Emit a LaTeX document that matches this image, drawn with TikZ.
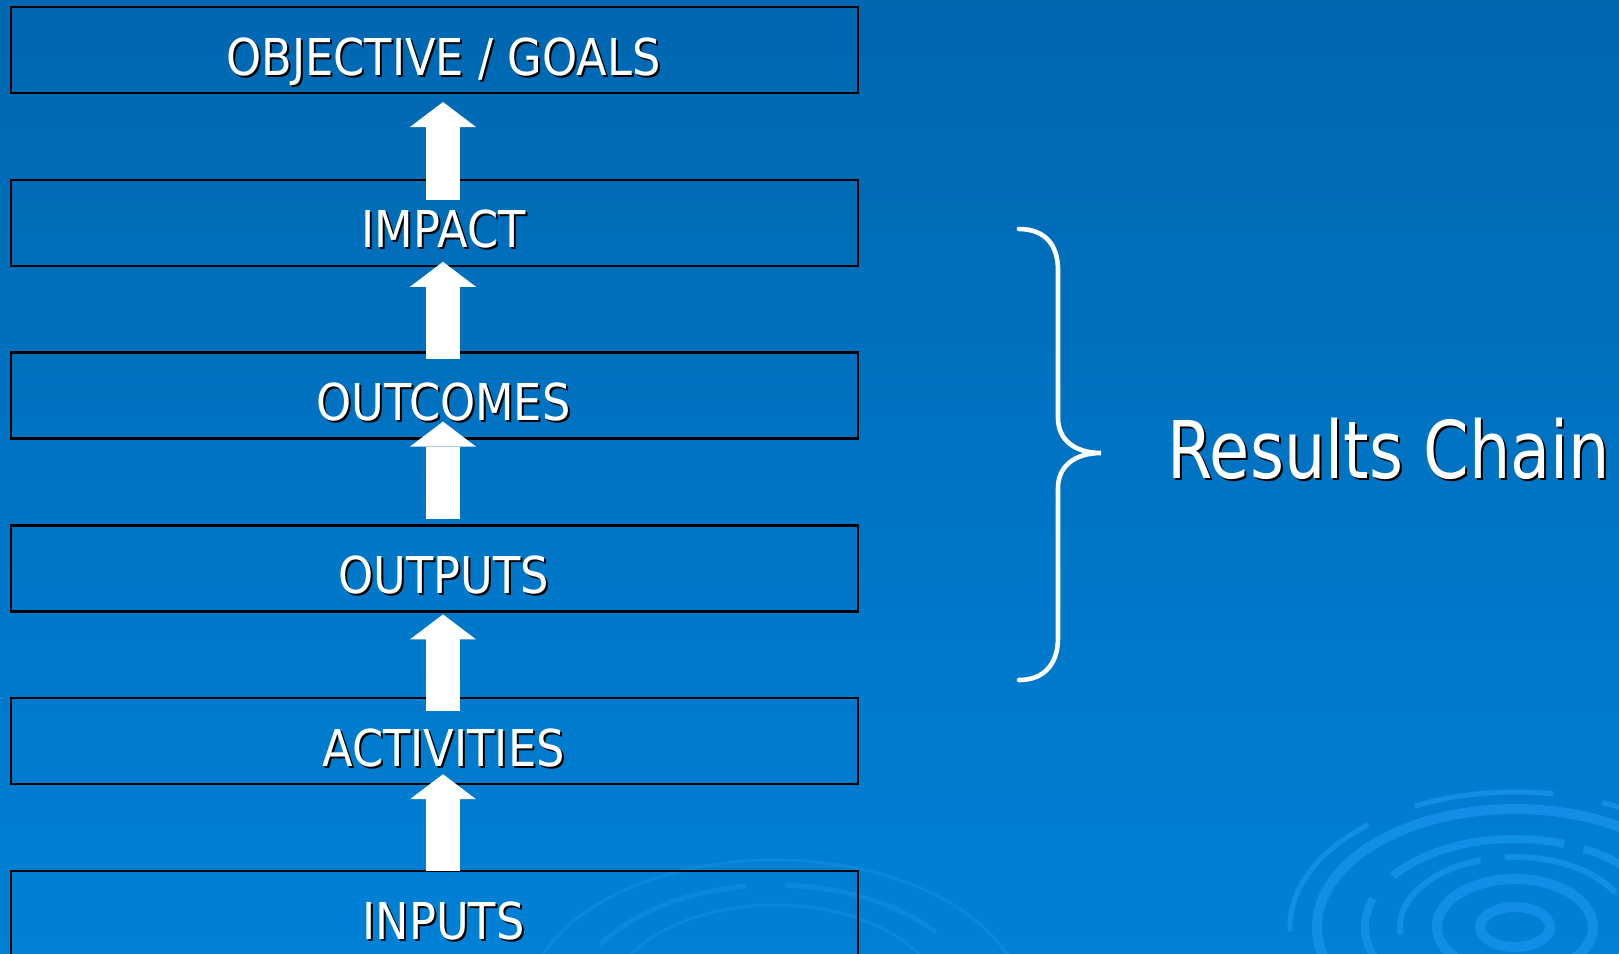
\documentclass[tikz,border=0pt]{standalone}
\usepackage{fontspec}
\usetikzlibrary{arrows.meta}
\newfontfamily\boxfont[FakeStretch=0.88]{DejaVu Sans}
\newfontfamily\chainfont[FakeStretch=0.82]{DejaVu Sans}
\definecolor{bgtop}{RGB}{0,103,177}
\definecolor{bgbottom}{RGB}{0,129,214}
\definecolor{ripple}{RGB}{18,142,230}
% 白字加黑色阴影
\newcommand{\shadowtext}[1]{\rlap{\kern1pt\raisebox{-1pt}{\color{black}#1}}#1}

\begin{document}
\begin{tikzpicture}[x=0.5pt, y=-0.5pt]
        % ================= 样式定义 =================
        \tikzset{
            % 阶段框:黑框,白字
            stage/.style={draw=black, line width=1.2pt, minimum width=423.5pt, minimum height=43pt,
                inner sep=0pt, outer sep=0pt, text=white, font=\boxfont\fontsize{25.4pt}{30pt}\selectfont,
                text height=25pt, text depth=0pt, execute at begin node=\hspace{9pt}},
            % 白色粗箭头
            uparrow/.style={white, line width=17pt, -{Triangle[width=33pt, length=12.5pt, line width=0pt]}},
            % 大括号
            brace/.style={white, line width=2.3pt, line cap=round},
            % 背景水纹
            ring/.style={draw=ripple, line width=3pt}
        }

        % ================= 1. 背景 =================
        \useasboundingbox (0,0) rectangle (1619,954);
        \fill[top color=bgtop, bottom color=bgbottom] (0,0) rectangle (1619,954);

        \begin{scope}
            \clip (0,0) rectangle (1619,954);
            % 右下角水纹
            \draw[ring, line width=5pt] (1515,927) ellipse [x radius=35, y radius=20];
            \draw[ring, line width=5pt] (1515,927) ellipse [x radius=78, y radius=48];
            \draw[ring, dash pattern=on 60pt off 12pt] (1515,927) ellipse [x radius=115, y radius=70];
            \draw[ring, line width=4pt, dash pattern=on 45pt off 15pt on 90pt off 10pt] (1515,927) ellipse [x radius=150, y radius=88];
            \draw[ring, line width=5pt] (1515,927) ellipse [x radius=198, y radius=118];
            \draw[ring, line width=2.5pt, dash pattern=on 70pt off 25pt] (1515,927) ellipse [x radius=225, y radius=135];
            % 底部中间水纹
            \draw[ring, line width=1.5pt, opacity=0.6] (775,1010) ellipse [x radius=170, y radius=105];
            \draw[ring, line width=2.5pt, opacity=0.6, dash pattern=on 80pt off 20pt] (775,1010) ellipse [x radius=205, y radius=125];
            \draw[ring, line width=1.5pt, opacity=0.6] (775,1010) ellipse [x radius=250, y radius=150];
        \end{scope}

        % ================= 2. 结果链各阶段 =================
        \node[stage] (obj)  at (434.5,50)    {\shadowtext{OBJECTIVE / GOALS}};
        \node[stage] (imp)  at (434.5,222.8) {\shadowtext{IMPACT}};
        \node[stage] (outc) at (434.5,395.6) {\shadowtext{OUTCOMES}};
        \node[stage] (outp) at (434.5,568.4) {\shadowtext{OUTPUTS}};
        \node[stage] (act)  at (434.5,741.2) {\shadowtext{ACTIVITIES}};
        \node[stage] (inp)  at (434.5,914)   {\shadowtext{INPUTS}};

        % ================= 3. 向上箭头 =================
        \draw[uparrow] ([xshift=4.25pt,yshift=-10pt]imp.north)  -- ([xshift=4.25pt,yshift=-4.5pt]obj.south);
        \draw[uparrow] ([xshift=4.25pt,yshift=-3pt]outc.north)  -- ([xshift=4.25pt,yshift=2pt]imp.south);
        \draw[uparrow] ([xshift=4.25pt,yshift=3pt]outp.north)   -- ([xshift=4.25pt,yshift=8.5pt]outc.south);
        \draw[uparrow] ([xshift=4.25pt,yshift=-6.5pt]act.north) -- ([xshift=4.25pt,yshift=-1.5pt]outp.south);
        \draw[uparrow] ([xshift=4.25pt]inp.north)               -- ([xshift=4.25pt,yshift=5pt]act.south);

        % ================= 4. 大括号与标题 =================
        \draw[brace] (1019,229) .. controls (1045,229) and (1058,245) .. (1058,270) -- (1058,418)
            .. controls (1058,440) and (1075,453) .. (1101,453)
            .. controls (1075,453) and (1058,466) .. (1058,488) -- (1058,638)
            .. controls (1058,663) and (1045,680) .. (1019,680);

        \node[anchor=base west, inner sep=0pt, text=white, font=\chainfont\fontsize{39.8pt}{48pt}\selectfont]
            (chain) at (1167,478) {\shadowtext{Results Chain}};

    \end{tikzpicture}
\end{document}
